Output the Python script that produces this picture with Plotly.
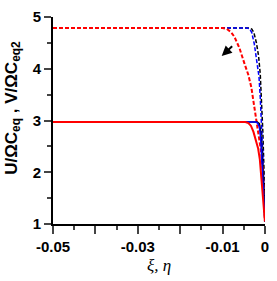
import plotly.graph_objects as go

# Dashed curves (upper family, V/ΩCeq2)
x_red_dash = [-0.05, -0.0100, -0.0090, -0.0080, -0.0072, -0.0060, -0.0049, -0.0039, -0.0032, -0.0025, -0.0021, -0.0015, -0.0009, -0.0005, -0.0002, 0.0]
y_red_dash = [4.79, 4.79, 4.77, 4.71, 4.62, 4.40, 4.12, 3.88, 3.64, 3.28, 3.02, 2.72, 2.40, 2.05, 1.60, 1.05]

x_blue_dash = [-0.05, -0.0042, -0.0036, -0.0031, -0.0025, -0.0019, -0.0014, -0.0011, -0.0008, -0.0005, -0.0002, 0.0]
y_blue_dash = [4.79, 4.79, 4.77, 4.70, 4.48, 4.18, 3.85, 3.45, 2.95, 2.35, 1.65, 1.05]

x_black_dash = [-0.05, -0.0037, -0.0031, -0.0026, -0.0020, -0.0015, -0.0011, -0.0008, -0.0005, -0.0002, 0.0]
y_black_dash = [4.79, 4.79, 4.77, 4.70, 4.50, 4.25, 3.90, 3.40, 2.80, 2.00, 1.05]

# Solid curves (lower family, U/ΩCeq)
x_red_solid = [-0.05, -0.0046, -0.0039, -0.0033, -0.0027, -0.0021, -0.0016, -0.0012, -0.0008, -0.0004, -0.0001, 0.0]
y_red_solid = [2.97, 2.97, 2.95, 2.90, 2.78, 2.62, 2.46, 2.25, 1.90, 1.50, 1.18, 1.05]

x_blue_solid = [-0.05, -0.0022, -0.0017, -0.0013, -0.0010, -0.0008, -0.0006, -0.0003, 0.0]
y_blue_solid = [2.97, 2.97, 2.95, 2.87, 2.65, 2.35, 2.05, 1.60, 1.05]

x_black_solid = [-0.05, -0.0018, -0.0013, -0.0010, -0.0008, -0.0006, -0.0003, 0.0]
y_black_solid = [2.97, 2.97, 2.94, 2.80, 2.55, 2.25, 1.70, 1.05]

x_tickvals = [-0.05, -0.04, -0.03, -0.02, -0.01, 0]
x_ticktext = ["-0.05", "", "-0.03", "", "-0.01", "0"]
x_minor = [-0.045, -0.035, -0.025, -0.015, -0.005]
y_tickvals = [1, 2, 3, 4, 5]
y_minor = [1.5, 2.5, 3.5, 4.5]

fig = go.Figure()
dash = "4px,2px"
series = [
    (x_black_dash, y_black_dash, "black", dash, 1.5),
    (x_blue_dash, y_blue_dash, "blue", dash, 1.5),
    (x_red_dash, y_red_dash, "red", dash, 2),
    (x_black_solid, y_black_solid, "black", "solid", 1.5),
    (x_blue_solid, y_blue_solid, "blue", "solid", 1.5),
    (x_red_solid, y_red_solid, "red", "solid", 2),
]
for xs, ys, c, d, w in series:
    fig.add_trace(go.Scatter(x=xs, y=ys, mode="lines", line=dict(color=c, width=w, dash=d),
                             showlegend=False, hoverinfo="skip", cliponaxis=True))

font = "Arial, Liberation Sans, sans-serif"
fig.update_layout(
    width=277, height=281,
    margin=dict(l=53, r=8, t=8, b=57),
    plot_bgcolor="white", paper_bgcolor="white",
    font=dict(family=font, size=15, color="black"),
    xaxis=dict(range=[-0.05, 0.00002], tickmode="array", tickvals=x_tickvals, ticktext=x_ticktext,
               ticks="outside", ticklen=8, tickwidth=2, showline=True, linewidth=2, linecolor="black",
               showgrid=False, zeroline=False, ticklabeloverflow="allow",
               tickfont=dict(family=font, size=15, color="black", weight="bold"),
               minor=dict(tickmode="array", tickvals=x_minor, ticks="outside", ticklen=4, tickwidth=2, showgrid=False)),
    yaxis=dict(range=[1, 5.002], tickmode="array", tickvals=y_tickvals,
               ticks="outside", ticklen=7, tickwidth=2, showline=True, linewidth=2, linecolor="black",
               showgrid=False, zeroline=False, ticklabeloverflow="allow",
               tickfont=dict(family=font, size=15, color="black", weight="bold"),
               minor=dict(tickmode="array", tickvals=y_minor, ticks="outside", ticklen=4, tickwidth=2, showgrid=False)),
)

fig.add_annotation(x=-0.0102, y=4.25, ax=12, ay=-11, xref="x", yref="y", text="",
                   showarrow=True, arrowhead=2, arrowsize=1, arrowwidth=2, arrowcolor="black")

fig.add_annotation(xref="paper", yref="paper", x=-0.19, y=0.56, xanchor="center", yanchor="middle",
                   text="<b>U/ΩC<sub>eq</sub> , V/ΩC<sub>eq2</sub></b>", textangle=-90, showarrow=False,
                   font=dict(family=font, size=17, color="black"))
fig.add_annotation(xref="paper", yref="paper", x=0.5, y=-0.2, xanchor="center", yanchor="middle",
                   text="<i>ξ, η</i>", showarrow=False,
                   font=dict(family="Times New Roman, Liberation Serif, serif", size=17, color="black"))

fig.write_html("out.html", config={"displayModeBar": False},
               post_script="document.body.style.margin='0';document.body.style.overflow='hidden';")
